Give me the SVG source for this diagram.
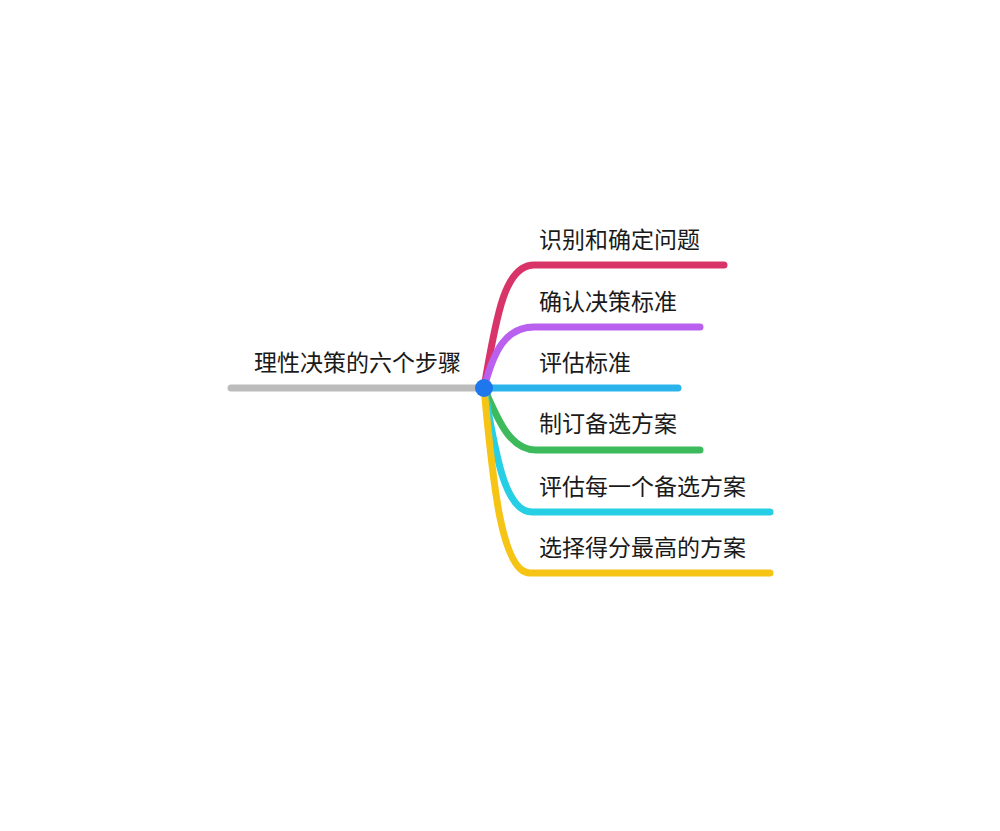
<svg xmlns="http://www.w3.org/2000/svg" width="1000" height="831" viewBox="0 0 1000 831">
<style>
.ln{fill:none;stroke-width:7;stroke-linecap:round;stroke-linejoin:round}
.t{font-family:"Noto Sans CJK SC","Noto Sans",sans-serif;font-size:23px;fill:#1a1a1a}
</style>
<rect width="1000" height="831" fill="#ffffff"/>
<g id="connectors">
<path class="ln" stroke="#bcbcbc" d="M231,388 L484,388"/>
<path class="ln" stroke="#d9346a" d="M484,388 C497,310 506,265 534,265 L724,265"/>
<path class="ln" stroke="#b960ef" d="M484,388 C494,350 506,327 534,327 L700,327"/>
<path class="ln" stroke="#2bb4ec" d="M484,388 L678,388"/>
<path class="ln" stroke="#3cba5c" d="M484,388 C498,420 510,450 536,450 L700,450"/>
<path class="ln" stroke="#26cfe3" d="M484,388 C494,440 502,512 532,512 L770,512"/>
<path class="ln" stroke="#f5c414" d="M484,388 C492,470 500,573 530,573 L770,573"/>
</g>
<g id="root">
<text class="t" x="254" y="371">理性决策的六个步骤</text>
<circle cx="484" cy="388" r="9" fill="#1f77ee"/>
</g>
<g id="n1"><text class="t" x="539" y="248">识别和确定问题</text></g>
<g id="n2"><text class="t" x="539" y="310">确认决策标准</text></g>
<g id="n3"><text class="t" x="539" y="371">评估标准</text></g>
<g id="n4"><text class="t" x="539" y="432">制订备选方案</text></g>
<g id="n5"><text class="t" x="539" y="495">评估每一个备选方案</text></g>
<g id="n6"><text class="t" x="539" y="556">选择得分最高的方案</text></g>
</svg>
